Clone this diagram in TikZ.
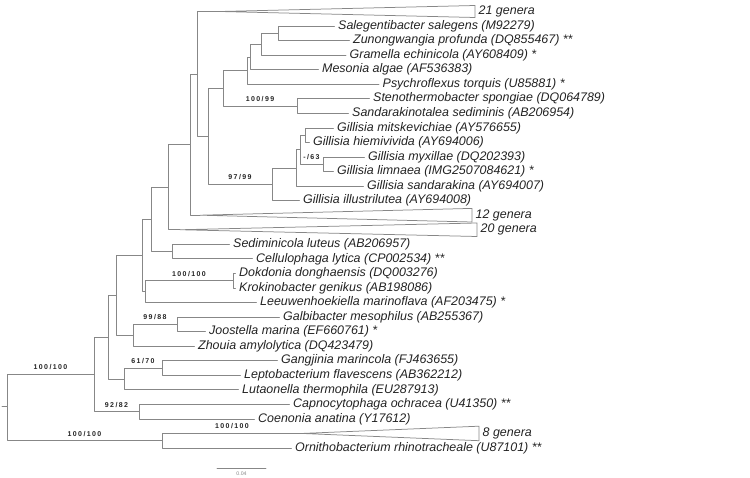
\documentclass[tikz,border=0pt]{standalone}
\usepackage{fontspec}
\setsansfont{Liberation Sans}
\newfontfamily\bsfont{Liberation Sans}[LetterSpace=20]
\definecolor{ln}{RGB}{135,135,135}
\definecolor{tx}{RGB}{35,35,35}
\begin{document}
\begin{tikzpicture}[x=1pt,y=-1pt,
  edge/.style={draw=ln, line width=0.75pt, line cap=round, line join=round},
  leaf/.style={anchor=west, inner xsep=3.5pt, inner ysep=0pt, text=tx,
    font=\sffamily\itshape\fontsize{12.45}{14}\selectfont, text height=9pt, text depth=2.6pt},
  boot/.style={pos=.75, anchor=base, yshift=4.5pt, inner sep=0pt, text=tx,
    font=\bsfont\bfseries\fontsize{7}{8}\selectfont},
  sblabel/.style={anchor=north, yshift=-3pt, inner sep=0pt, text=ln,
    font=\sffamily\fontsize{5.2}{6}\selectfont}]
\useasboundingbox (0,0) rectangle (750,478);
% internal nodes
\coordinate (R0) at (2,406.5);
\coordinate (R) at (7,406.5);
\coordinate (A) at (94,374.4);
\coordinate (B) at (162,440.7);
\coordinate (N14) at (108,337.2);
\coordinate (CC) at (139,411.6);
\coordinate (N13) at (116,295.4);
\coordinate (GL) at (124,378.9);
\coordinate (GP) at (162,368.0);
\coordinate (N11) at (142,255.5);
\coordinate (GJZ) at (133,335.2);
\coordinate (GJ) at (177,324.3);
\coordinate (N10) at (151,219.4);
\coordinate (N12) at (145,291.6);
\coordinate (DK) at (233,280.7);
\coordinate (SC) at (172,251.6);
\coordinate (N9) at (168,187.15);
\coordinate (N2) at (190,144.55);
\coordinate (N1) at (197,73.9);
\coordinate (N3) at (208,136.3);
\coordinate (N4) at (223,88.35);
\coordinate (N5) at (247,70.6);
\coordinate (N6) at (250,56.95);
\coordinate (N7) at (261,44.2);
\coordinate (N8) at (278,33.3);
\coordinate (S) at (297,106.1);
\coordinate (GA) at (272,184.3);
\coordinate (GB) at (296,167.9);
\coordinate (GC) at (300,149.7);
\coordinate (GD) at (305,135.2);
\coordinate (GE) at (323,164.3);
% collapsed clades
\coordinate (p0) at (220,11.5);
\coordinate (p0t) at (475,5.5);
\coordinate (p0b) at (475,17.5);
\coordinate (p14) at (200,215.2);
\coordinate (p14t) at (472,208.4);
\coordinate (p14b) at (472,222.0);
\coordinate (p15) at (180,229.75);
\coordinate (p15t) at (477,223.0);
\coordinate (p15b) at (477,236.5);
\coordinate (p29) at (302,433.45);
\coordinate (p29t) at (479,426.2);
\coordinate (p29b) at (479,440.7);
% leaves
\node[leaf] (l0) at (475,11.5) {21 genera};
\node[leaf] (l1) at (334.5,26.05) {Salegentibacter salegens (M92279)};
\node[leaf] (l2) at (349.5,40.6) {Zunongwangia profunda (DQ855467) **};
\node[leaf] (l3) at (346,55.15) {Gramella echinicola (AY608409) *};
\node[leaf] (l4) at (318.5,69.7) {Mesonia algae (AF536383)};
\node[leaf] (l5) at (379,84.25) {Psychroflexus torquis (U85881) *};
\node[leaf] (l6) at (369.5,98.8) {Stenothermobacter spongiae (DQ064789)};
\node[leaf] (l7) at (348.5,113.35) {Sandarakinotalea sediminis (AB206954)};
\node[leaf] (l8) at (333.5,127.9) {Gillisia mitskevichiae (AY576655)};
\node[leaf] (l9) at (309.5,142.45) {Gillisia hiemivivida (AY694006)};
\node[leaf] (l10) at (364.5,157.0) {Gillisia myxillae (DQ202393)};
\node[leaf] (l11) at (333.5,171.55) {Gillisia limnaea (IMG2507084621) *};
\node[leaf] (l12) at (363.5,186.1) {Gillisia sandarakina (AY694007)};
\node[leaf] (l13) at (299.5,200.65) {Gillisia illustrilutea (AY694008)};
\node[leaf] (l14) at (472,215.2) {12 genera};
\node[leaf] (l15) at (477,229.75) {20 genera};
\node[leaf] (l16) at (229.5,244.3) {Sediminicola luteus (AB206957)};
\node[leaf] (l17) at (252.5,258.85) {Cellulophaga lytica (CP002534) **};
\node[leaf] (l18) at (235.5,273.4) {Dokdonia donghaensis (DQ003276)};
\node[leaf] (l19) at (235.5,287.95) {Krokinobacter genikus (AB198086)};
\node[leaf] (l20) at (256.5,302.5) {Leeuwenhoekiella marinoflava (AF203475) *};
\node[leaf] (l21) at (279.5,317.05) {Galbibacter mesophilus (AB255367)};
\node[leaf] (l22) at (205.5,331.6) {Joostella marina (EF660761) *};
\node[leaf] (l23) at (194.5,346.15) {Zhouia amylolytica (DQ423479)};
\node[leaf] (l24) at (277.5,360.7) {Gangjinia marincola (FJ463655)};
\node[leaf] (l25) at (240.5,375.25) {Leptobacterium flavescens (AB362212)};
\node[leaf] (l26) at (238.5,389.8) {Lutaonella thermophila (EU287913)};
\node[leaf] (l27) at (289.5,404.35) {Capnocytophaga ochracea (U41350) **};
\node[leaf] (l28) at (254.5,418.9) {Coenonia anatina (Y17612)};
\node[leaf] (l29) at (479,433.45) {8 genera};
\node[leaf] (l30) at (291.5,448.0) {Ornithobacterium rhinotracheale (U87101) **};
% branches
\draw[edge] (R0) -- (R);
\draw[edge] (R) |- (A) node[boot]{100/100};
\draw[edge] (R) |- (B) node[boot]{100/100};
\draw[edge] (A) |- (N14);
\draw[edge] (A) |- (CC) node[boot]{92/82};
\draw[edge] (N14) |- (N13);
\draw[edge] (N14) |- (GL);
\draw[edge] (N13) |- (N11);
\draw[edge] (N13) |- (GJZ);
\draw[edge] (N11) |- (N10);
\draw[edge] (N11) |- (N12);
\draw[edge] (N10) |- (N9);
\draw[edge] (N10) |- (SC);
\draw[edge] (N9) |- (N2);
\draw[edge] (N9) |- (p15);
\draw[edge] (N2) |- (N1);
\draw[edge] (N2) |- (p14);
\draw[edge] (N1) |- (p0);
\draw[edge] (N1) |- (N3);
\draw[edge] (N3) |- (N4);
\draw[edge] (N3) |- (GA) node[boot]{97/99};
\draw[edge] (N4) |- (N5);
\draw[edge] (N4) |- (S) node[boot]{100/99};
\draw[edge] (N5) |- (N6);
\draw[edge] (N5) |- (l5.west);
\draw[edge] (N6) |- (N7);
\draw[edge] (N6) |- (l4.west);
\draw[edge] (N7) |- (N8);
\draw[edge] (N7) |- (l3.west);
\draw[edge] (N8) |- (l1.west);
\draw[edge] (N8) |- (l2.west);
\draw[edge] (S) |- (l6.west);
\draw[edge] (S) |- (l7.west);
\draw[edge] (GA) |- (GB);
\draw[edge] (GA) |- (l13.west);
\draw[edge] (GB) |- (GC);
\draw[edge] (GB) |- (l12.west);
\draw[edge] (GC) |- (GD);
\draw[edge] (GC) |- (GE) node[boot]{-/63};
\draw[edge] (GD) |- (l8.west);
\draw[edge] (GD) |- (l9.west);
\draw[edge] (GE) |- (l10.west);
\draw[edge] (GE) |- (l11.west);
\draw[edge] (SC) |- (l16.west);
\draw[edge] (SC) |- (l17.west);
\draw[edge] (N12) |- (DK) node[boot]{100/100};
\draw[edge] (N12) |- (l20.west);
\draw[edge] (DK) |- (l18.west);
\draw[edge] (DK) |- (l19.west);
\draw[edge] (GJZ) |- (GJ) node[boot]{99/88};
\draw[edge] (GJZ) |- (l23.west);
\draw[edge] (GJ) |- (l21.west);
\draw[edge] (GJ) |- (l22.west);
\draw[edge] (GL) |- (GP) node[boot]{61/70};
\draw[edge] (GL) |- (l26.west);
\draw[edge] (GP) |- (l24.west);
\draw[edge] (GP) |- (l25.west);
\draw[edge] (CC) |- (l27.west);
\draw[edge] (CC) |- (l28.west);
\draw[edge] (B) |- (p29) node[boot]{100/100};
\draw[edge] (B) |- (l30.west);
% triangles
\draw[edge] (p0) -- (p0t) -- (p0b) -- cycle;
\draw[edge] (p14) -- (p14t) -- (p14b) -- cycle;
\draw[edge] (p15) -- (p15t) -- (p15b) -- cycle;
\draw[edge] (p29) -- (p29t) -- (p29b) -- cycle;
% scale bar
\coordinate (sb1) at (217,468);
\coordinate (sb2) at (266,468);
\draw[edge] (sb1) -- (sb2) node[midway, sblabel] {0.04};
\end{tikzpicture}
\end{document}
